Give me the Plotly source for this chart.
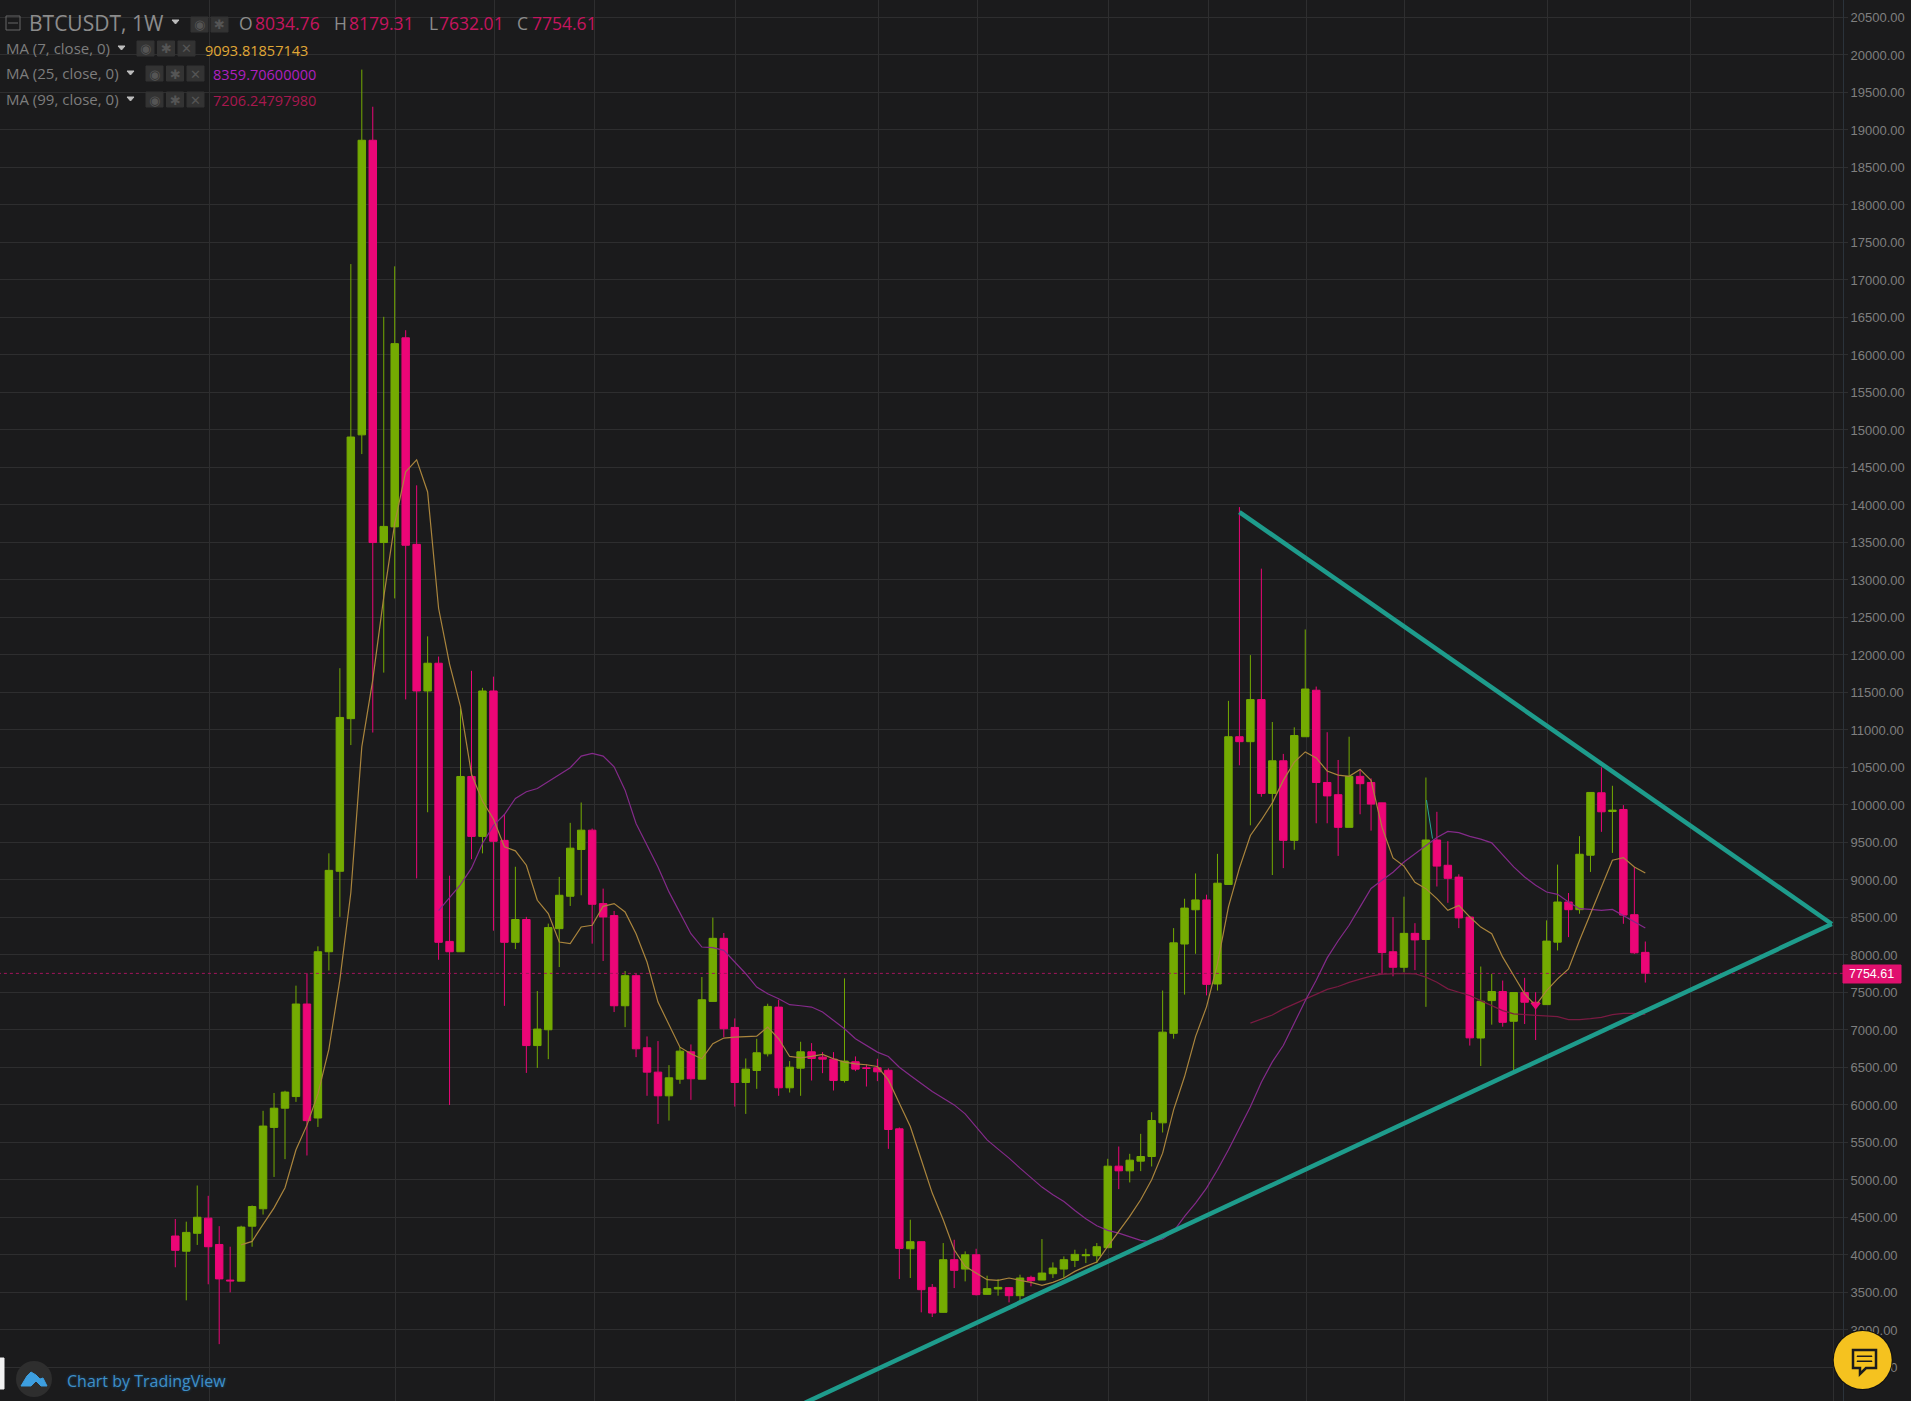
import plotly.graph_objects as go

# Weekly BTCUSDT candles
opens = [4253, 4050, 4289, 4491, 4140, 3665, 3651, 4384, 4616, 5701, 5957, 6112, 7346, 5826, 8043, 9116, 11151, 14935, 18863, 13499,
         13708, 16229, 13475, 11520, 11890, 8181, 8043, 10380, 9581, 11520, 9528, 8169, 8473, 6792, 7003, 8351, 8783, 9406, 9664, 8685,
         8525, 7323, 7724, 6763, 6438, 6122, 6344, 6709, 6344, 7381, 8222, 7034, 6300, 6460, 6682, 7305, 6229, 6491, 6709, 6638,
         6611, 6326, 6576, 6496, 6496, 6463, 5682, 4083, 4177, 3568, 3235, 3937, 3812, 4003, 3475, 3546, 3564, 3457, 3701, 3666,
         3750, 3812, 3928, 3990, 3990, 4097, 5184, 5122, 5251, 5313, 5762, 6955, 8146, 8603, 8734, 7613, 8940, 10910, 10844, 11405,
         10154, 10589, 9528, 10910, 11530, 10300, 10137, 9702, 10382, 10300, 10028, 8043, 7836, 8288, 8206, 9533, 9196, 9038, 8505, 6893,
         7392, 7512, 7116, 7499, 7370, 7338, 8171, 8706, 8604, 9330, 10163, 9913, 9940, 8537, 8034.76]
highs = [4480, 4444, 4926, 4789, 4384, 4110, 4390, 4660, 5922, 6160, 6190, 7591, 7757, 8115, 9355, 11824, 17212, 19805, 19310, 16509,
         17182, 16330, 14262, 12248, 11979, 9057, 11288, 11789, 11562, 11711, 9873, 9176, 8508, 7519, 8418, 9041, 9762, 10033, 9686, 8885,
         8587, 7786, 7759, 6914, 6852, 6531, 6771, 6807, 7706, 8498, 8293, 7154, 6620, 6883, 7350, 7403, 6585, 6843, 6825, 6705,
         6705, 7688, 6647, 6540, 6616, 6490, 5700, 4470, 4180, 3613, 4159, 4203, 4048, 4083, 3724, 3679, 3570, 3737, 3724, 4212,
         3901, 3981, 4070, 4083, 4159, 5282, 5446, 5349, 5615, 5904, 7526, 8358, 8750, 9087, 8804, 9348, 11388, 13972, 11998, 13151,
         11106, 10681, 11035, 12340, 11579, 10970, 10600, 10910, 10474, 10355, 10030, 8505, 8777, 8424, 10366, 9909, 9517, 9076, 8520, 7846,
         7748, 7659, 7499, 7695, 7503, 8461, 9205, 8826, 9584, 10167, 10501, 10256, 9998, 9174, 8179.31]
lows = [3836, 3395, 4134, 3609, 2811, 3502, 3651, 4110, 4539, 5040, 5278, 6041, 5326, 5707, 7793, 8508, 10799, 14679, 10966, 11765,
        12754, 11407, 9021, 9903, 7936, 5999, 8043, 9277, 9355, 8324, 7322, 8079, 6428, 6494, 6611, 7839, 8654, 8796, 8151, 7920,
        7239, 7038, 6638, 6122, 5748, 5792, 6282, 6068, 6340, 7381, 6905, 5979, 5881, 6215, 6647, 6122, 6166, 6122, 6326, 6424,
        6193, 6300, 6451, 6246, 6318, 5415, 3679, 3693, 3235, 3173, 3230, 3559, 3648, 3460, 3470, 3457, 3368, 3382, 3582, 3666,
        3693, 3693, 3839, 3892, 3892, 4097, 4878, 4967, 5118, 5180, 5633, 6884, 7472, 8016, 7461, 7526, 8940, 10529, 9729, 10110,
        9066, 9158, 9403, 10910, 9756, 9756, 9321, 9702, 9876, 9658, 7744, 7716, 7771, 7798, 7308, 8913, 8696, 8358, 6792, 6519,
        7071, 7044, 6447, 7080, 6866, 7338, 8060, 8238, 8550, 9107, 9642, 9361, 8416, 8015, 7632.01]
closes = [4062, 4301, 4503, 4110, 3681, 3655, 4372, 4646, 5719, 5957, 6172, 7346, 5791, 8043, 9128, 11167, 14906, 18863, 13499, 13714,
          16151, 13463, 11520, 11890, 8169, 8043, 10380, 9581, 11520, 9516, 8169, 8473, 6792, 7012, 8365, 8796, 9424, 9664, 8676, 8507,
          7323, 7724, 6749, 6438, 6122, 6362, 6718, 6349, 7403, 8222, 7016, 6300, 6478, 6696, 7314, 6229, 6504, 6709, 6620, 6611,
          6326, 6585, 6478, 6487, 6442, 5673, 4088, 4177, 3537, 3226, 3937, 3795, 4003, 3471, 3551, 3568, 3457, 3693, 3657, 3759,
          3826, 3937, 4008, 4003, 4110, 5184, 5122, 5264, 5313, 5793, 6971, 8162, 8625, 8734, 7608, 8957, 10910, 10844, 11405, 10154,
          10589, 9528, 10926, 11546, 10300, 10121, 9702, 10382, 10284, 10012, 8032, 7836, 8288, 8201, 9533, 9185, 9022, 8494, 6895, 7383,
          7512, 7102, 7499, 7370, 7347, 8185, 8706, 8604, 9343, 10167, 9909, 9931, 8532, 8029, 7754.61]

# Moving averages, all ending on the last candle
ma7 = [4134, 4181, 4408, 4628, 4897, 5403, 5731, 6148, 6744, 7668, 8830, 10775, 11669, 12772, 13755, 14441, 14602, 14173, 12623, 11878,
       11312, 10410, 10052, 9814, 9442, 9388, 9197, 8729, 8551, 8173, 8151, 8373, 8396, 8649, 8685, 8574, 8284, 7906, 7372, 7061,
       6771, 6682, 6616, 6816, 6892, 6905, 6914, 6918, 7039, 6883, 6647, 6629, 6647, 6674, 6616, 6571, 6549, 6536, 6513, 6334,
       6024, 5713, 5269, 4825, 4470, 4070, 3848, 3759, 3670, 3662, 3693, 3662, 3635, 3595, 3635, 3693, 3781, 3848, 3906, 4114,
       4314, 4514, 4736, 5002, 5358, 5935, 6379, 6912, 7308, 7880, 8641, 9158, 9593, 9800, 10028, 10328, 10572, 10708, 10627, 10453,
       10398, 10382, 10474, 10328, 9702, 9294, 9185, 8968, 8884, 8751, 8595, 8661, 8506, 8372, 8283, 7971, 7726, 7481, 7325, 7525,
       7681, 7815, 8194, 8550, 8907, 9263, 9299, 9174, 9093.82]
ma25 = [8592, 8771, 8937, 9158, 9486, 9724, 9873, 10087, 10176, 10220, 10309, 10398, 10496, 10652, 10687, 10652, 10509, 10198, 9753, 9464,
        9174, 8841, 8552, 8284, 8106, 8098, 8062, 7906, 7750, 7572, 7483, 7417, 7337, 7323, 7306, 7239, 7128, 7016, 6883, 6794,
        6705, 6647, 6504, 6393, 6291, 6179, 6090, 6001, 5882, 5713, 5535, 5411, 5291, 5158, 5025, 4905, 4803, 4714, 4594, 4483,
        4390, 4328, 4292, 4239, 4194, 4172, 4212, 4314, 4514, 4692, 4891, 5136, 5402, 5691, 5976, 6302, 6574, 6792, 7091, 7390,
        7662, 7961, 8190, 8396, 8641, 8886, 8995, 9104, 9240, 9348, 9457, 9566, 9648, 9631, 9582, 9544, 9495, 9330, 9174, 9040,
        8929, 8840, 8808, 8706, 8617, 8608, 8595, 8608, 8528, 8448, 8359.71]
ma99 = [7091, 7145, 7200, 7281, 7346, 7417, 7482, 7542, 7580, 7635, 7678, 7717, 7744, 7749, 7754, 7749, 7704, 7637, 7548, 7503,
        7459, 7392, 7325, 7258, 7214, 7205, 7191, 7178, 7178, 7138, 7138, 7151, 7169, 7205, 7222, 7222, 7206.25]

# Hand-drawn triangle on the chart, (candle number, price)
upper_line_x = [97.0, 151.0]
upper_line_y = [13905, 8413]
lower_line_x = [57.4, 151.0]
lower_line_y = [2030, 8413]
thin_line_x = [114.05, 114.6]
thin_line_y = [10065, 9552]
marker_x = [124]
marker_y = [7330]

last_price = 7754.61
price_ticks = list(range(2000, 21000, 500))
time_grid = [3.1, 20.09, 29.08, 38.17, 51.05, 64.08, 73.15, 85.05, 94.2, 103.1, 112.03, 125.07, 138.1, 151.14]

BG = "#1b1b1c"
GRID = "#2e2e2f"
GREEN = "#74ab02"
PINK = "#ec0677"
W, H = 1911, 1401
PLOT_W = 1843


# Page pixels to paper coordinates, the overlay texts and icons are placed by eye
def px(x):
    return x / PLOT_W


def py(y):
    return 1 - y / H


def ma_trace(values, color):
    first = len(opens) - len(values)
    return go.Scatter(x=list(range(first, len(opens))), y=values, mode="lines",
                      line=dict(color=color, width=1.2), hoverinfo="skip")


def label(text, x, y, color, size, family="Open Sans", anchor="left", shadow=None):
    font = dict(family=family, size=size, color=color)
    if shadow:
        font["shadow"] = shadow
    fig.add_annotation(text=text, xref="paper", yref="paper", x=px(x), y=py(y), showarrow=False,
                       xanchor=anchor, yanchor="middle", borderpad=0, font=font)


def box(x0, y0, x1, y1, fill, line=None):
    fig.add_shape(type="rect", xref="paper", yref="paper", x0=px(x0), x1=px(x1), y0=py(y0), y1=py(y1),
                  fillcolor=fill, line=dict(color=line or fill, width=1))


def circle(cx, cy, r, fill):
    fig.add_shape(type="circle", xref="paper", yref="paper", x0=px(cx - r), x1=px(cx + r), y0=py(cy - r), y1=py(cy + r),
                  fillcolor=fill, line=dict(width=0))


def polygon(points, fill=None, line=None, width=1):
    path = "M " + " L ".join(f"{px(x):.5f},{py(y):.5f}" for x, y in points) + " Z"
    fig.add_shape(type="path", xref="paper", yref="paper", path=path, fillcolor=fill or "rgba(0,0,0,0)",
                  line=dict(color=line or fill, width=width))


fig = go.Figure()

fig.add_trace(go.Scatter(x=[-20, 155], y=[last_price, last_price], mode="lines",
                         line=dict(color="#a3145c", width=1, dash="dot"), hoverinfo="skip"))
fig.add_trace(ma_trace(ma99, "#7a1a42"))
fig.add_trace(ma_trace(ma25, "#842a8a"))
fig.add_trace(ma_trace(ma7, "#aa853d"))

fig.add_trace(go.Candlestick(x=list(range(len(opens))), open=opens, high=highs, low=lows, close=closes,
                             increasing=dict(line=dict(color=GREEN, width=1), fillcolor=GREEN),
                             decreasing=dict(line=dict(color=PINK, width=1), fillcolor=PINK),
                             whiskerwidth=0, hoverinfo="skip"))

fig.add_trace(go.Scatter(x=marker_x, y=marker_y, mode="markers", hoverinfo="skip",
                         marker=dict(symbol="triangle-down", size=9, color=PINK)))
fig.add_trace(go.Scatter(x=thin_line_x, y=thin_line_y, mode="lines", line=dict(color="#2aa596", width=1), hoverinfo="skip"))
fig.add_trace(go.Scatter(x=upper_line_x, y=upper_line_y, mode="lines", line=dict(color="#1e9c8c", width=4.5), hoverinfo="skip"))
fig.add_trace(go.Scatter(x=lower_line_x, y=lower_line_y, mode="lines", line=dict(color="#1e9c8c", width=4.5), hoverinfo="skip"))

fig.update_layout(
    width=W, height=H,
    margin=dict(l=0, r=W - PLOT_W, t=0, b=0, autoexpand=False),
    paper_bgcolor=BG, plot_bgcolor=BG,
    showlegend=False, boxgap=0.2, boxgroupgap=0.15,
    xaxis=dict(range=[-15.98, 152.02], tickvals=time_grid, showticklabels=False, ticks="",
               gridcolor=GRID, gridwidth=1, zeroline=False, showline=False, rangeslider=dict(visible=False)),
    yaxis=dict(range=[2053, 20733], side="right", tickvals=price_ticks, tickformat=".2f",
               ticks="outside", ticklen=4, tickcolor=GRID, gridcolor=GRID, gridwidth=1, zeroline=False,
               showline=True, linecolor="#2b333b", linewidth=1,
               tickfont=dict(family="Liberation Sans", size=13, color="#7f7f7f")),
)

# Legend block top left
box(6, 16, 20, 30, "rgba(0,0,0,0)", "#666666")
fig.add_shape(type="line", xref="paper", yref="paper", x0=px(8), x1=px(18), y0=py(23), y1=py(23), line=dict(color="#666666", width=1))
label("BTCUSDT, 1W", 28, 23, "#8c8c8c", 21)
polygon([(172, 20), (179, 20), (175.5, 24)], fill="#bdbdbd")
for x0, glyph in ((191, "◉"), (211, "✱")):
    box(x0, 17, x0 + 17, 32, "#333333")
    label(glyph, x0 + 8.5, 24, "#555555", 13, "DejaVu Sans", "center")

label("O", 238, 23, "#8c8c8c", 17.5)
label("8034.76", 254, 23, "#c5155f", 17.5)
label("H", 333, 23, "#8c8c8c", 17.5)
label("8179.31", 348, 23, "#c5155f", 17.5)
label("L", 428, 23, "#8c8c8c", 17.5)
label("7632.01", 438, 23, "#c5155f", 17.5)
label("C", 516, 23, "#8c8c8c", 17.5)
label("7754.61", 531, 23, "#c5155f", 17.5)

ma_rows = [("MA (7, close, 0)", 48, 121, 137, "9093.81857143", 204, "#e0a836"),
           ("MA (25, close, 0)", 73, 130, 146, "8359.70600000", 212, "#b020c0"),
           ("MA (99, close, 0)", 99, 130, 146, "7206.24797980", 212, "#a8184f")]
for text, y, arrow_x, btn_x, value, value_x, color in ma_rows:
    label(text, 5, y, "#7d7d7d", 15)
    polygon([(arrow_x - 3, y - 2), (arrow_x + 4, y - 2), (arrow_x + 0.5, y + 2)], fill="#bdbdbd")
    for k, glyph in enumerate(["◉", "✱", "✕"]):
        bx = btn_x + k * 20.5
        box(bx, y - 7, bx + 17, y + 8, "#333333")
        label(glyph, bx + 8.5, y + 1, "#555555", 13, "DejaVu Sans", "center")
    label(value, value_x, y + 2, color, 14.5)

# Last price tag on the axis
box(1843, 965, 1901, 983, "#e0106e")
label("7754.61", 1872, 974, "#ffffff", 12.5, "Liberation Sans", "center")

# Bottom tick only peeks in at the page edge
label("2000.00", 1851, 1406, "#7f7f7f", 13, "Liberation Sans")

# Bottom left branding
box(0, 1358, 4, 1389, "#f2f2f2")
circle(34, 1379, 18, "#2e2e2e")
polygon([(21, 1386), (27, 1376), (31, 1372), (36, 1375), (40, 1379), (43, 1378), (47, 1386), (41, 1386), (36, 1381), (31, 1386)], fill="#3d9fe0")
label("Chart by TradingView", 66, 1381, "#3f8fc8", 16, shadow="0 0 3px #17517c")

# Chat button bottom right
circle(1862.7, 1360, 30, "#111111")
circle(1862.7, 1360, 29, "#f5c21f")
polygon([(1853, 1350), (1876, 1350), (1876, 1368), (1866, 1368), (1860, 1374), (1860, 1368), (1853, 1368)], line="#1b1b1c", width=2.5)
box(1857, 1356, 1872, 1356.5, "#1b1b1c", "#1b1b1c")
box(1857, 1361, 1872, 1361.5, "#1b1b1c", "#1b1b1c")

fig.write_html("out.html", config={"displayModeBar": False}, post_script="document.body.style.margin = '0';")
